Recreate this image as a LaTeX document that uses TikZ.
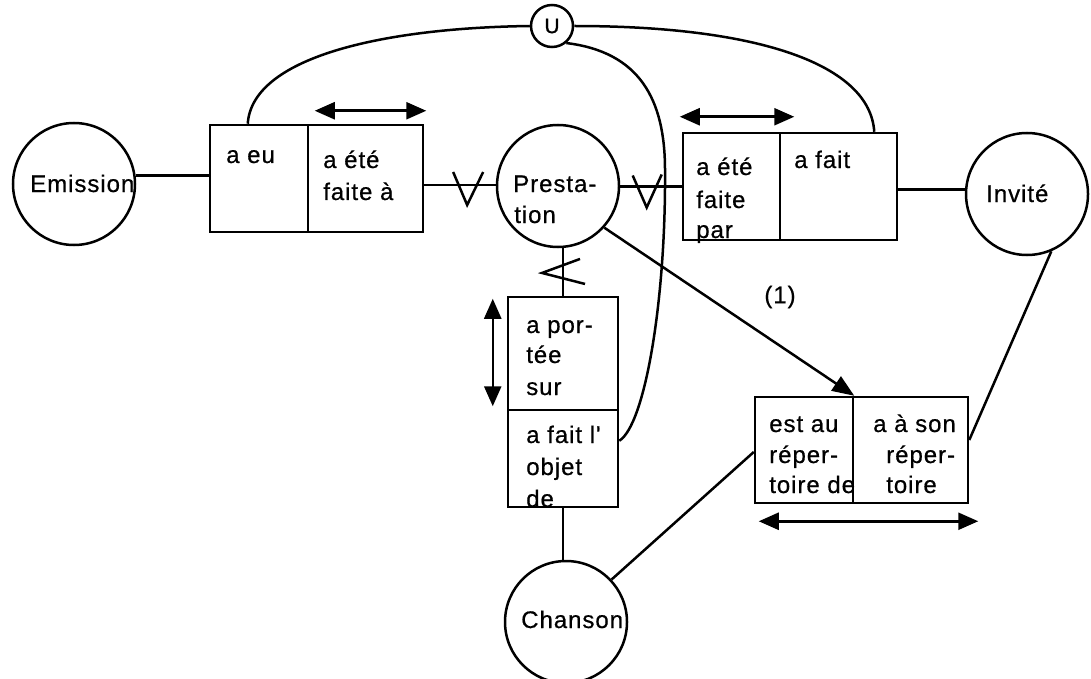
\documentclass[tikz,border=0pt]{standalone}
\usepackage{fontspec}
\newfontfamily\df{Liberation Sans}[LetterSpace=4,FakeBold=0.6]
\usetikzlibrary{shapes.geometric,arrows.meta,calc}
\begin{document}
\begin{tikzpicture}[x=1pt,y=-1pt, line width=2.5pt,
  every node/.style={font=\df\fontsize{24}{30}\selectfont},
  ent/.style={draw, circle, inner sep=0, minimum size=122},
  cell/.style={draw, rectangle, inner sep=0},
  lbl/.style={anchor=base west, inner sep=0},
  dbl/.style={{Triangle[length=20pt,width=17pt]}-{Triangle[length=20pt,width=17pt]}},
  arr/.style={-{Triangle[length=22pt,width=17pt]}}]
\fill[white] (0,0) rectangle (1091,679);
\useasboundingbox (0,0) rectangle (1091,679);

% entities
\node[ent] (emission) at (74,184) {};
\node[lbl] (emissiontxt) at (29,192) {Emission};
\node[ent] (pres) at (558,186) {};
\node[lbl] (prestxt1) at (512,192) {Presta-};
\node[lbl] (prestxt2) at (513,223) {tion};
\node[ent] (invite) at (1027,194) {};
\node[lbl] (invitetxt) at (985,202) {Invité};
\node[ent] (chanson) at (566,622) {};
\node[lbl] (chansontxt) at (520,628) {Chanson};
\node[draw, circle, inner sep=0, minimum size=42, font=\df\fontsize{21}{24}\selectfont] (u) at (552,26) {U};

% box 1
\node[cell, minimum width=98, minimum height=107] (a) at (259,178.5) {};
\node[cell, minimum width=115, minimum height=107] (b) at (365.5,178.5) {};
\node[lbl] (ta) at (225,163) {a eu};
\node[lbl] (tb1) at (322,168) {a été};
\node[lbl] (tb2) at (322,200) {faite à};

% box 2
\node[cell, minimum width=97, minimum height=107] (c) at (731.5,186.5) {};
\node[cell, minimum width=117, minimum height=107] (d) at (838.5,186.5) {};
\node[lbl] (tc1) at (695,175) {a été};
\node[lbl] (tc2) at (695,208) {faite};
\node[lbl] (tc3) at (695,238) {par};
\node[lbl] (td) at (793,168) {a fait};

% box 3
\node[cell, minimum width=110, minimum height=113] (e) at (563,353.5) {};
\node[cell, minimum width=110, minimum height=97] (f) at (563,458.5) {};
\node[lbl] (te1) at (525,333) {a por-};
\node[lbl] (te2) at (525,363) {tée};
\node[lbl] (te3) at (525,395) {sur};
\node[lbl] (tf1) at (525,443) {a fait l'};
\node[lbl] (tf2) at (525,475) {objet};
\node[lbl] (tf3) at (525,507) {de};

% box 4
\node[cell, minimum width=98, minimum height=106] (g) at (804,450) {};
\node[cell, minimum width=115, minimum height=106] (h) at (910.5,450) {};
\node[lbl] (tg1) at (768,432) {est au};
\node[lbl] (tg2) at (768,463) {réper-};
\node[lbl] (tg3) at (768,493) {toire de};
\node[lbl] (th1) at (872,432) {a à son};
\node[lbl] (th2) at (885,463) {réper-};
\node[lbl] (th3) at (885,493) {toire};

\node (one) at (780,297) {(1)};

% connectors
\coordinate (a0) at ($(a.west)+(0,-3)$);
\draw (a0) -- (a0 -| emission.east);
\coordinate (b0) at ($(b.east)+(0,6.5)$);
\draw (b0) -- (b0 -| pres.west);
\coordinate (v1) at ($(b0)!0.6!(b0 -| pres.west)$);
\draw (v1)+(-14,-13) -- +(0,20) -- +(16,-13);
\draw (c.west) -- (c.west -| pres.east);
\coordinate (v2) at ($(c.west -| pres.east)!0.43!(c.west)$);
\draw (v2)+(-14,-11) -- +(0,21) -- +(15,-12);
\coordinate (d0) at ($(d.east)+(0,3)$);
\draw (d0) -- (d0 -| invite.west);
\draw (e.north) -- (e.north |- pres.south);
\coordinate (v3) at ($(e.north)!0.48!(e.north |- pres.south)$);
\draw (v3)+(17,-14) -- +(-21,0) -- +(22,11);
\draw (f.south) -- (f.south |- chanson.north);
\draw (chanson.43) -- ($(g.west)+(0,2)$);
\draw (invite.-67) -- ($(h.east)+(0,-10)$);
\draw[arr] (pres.-42) -- (g.north east);

% curves via U
\coordinate (a1) at ($(a.north west)+(39,0)$);
\draw (a1) .. controls (252,58) and (380,28) .. (u.west);
\coordinate (d1) at ($(d.north east)+(-24,0)$);
\draw (u.east) .. controls (760,26) and (870,65) .. (d1);
\coordinate (f1) at ($(f.north east)+(0,32)$);
\draw (u.-50) .. controls (640,52) and (665,100) .. (665,170)
      .. controls (666,300) and (645,425) .. (f1);

% double arrows
\draw[dbl] ($(b.north west)+(8,-13)$) -- ($(b.north east)+(2,-13)$);
\draw[dbl] ($(c.north west)+(-2,-15)$) -- ($(c.north east)+(13,-15)$);
\draw[dbl] ($(e.north west)+(-14,3)$) -- ($(e.south west)+(-14,-5)$);
\draw[dbl] ($(g.south west)+(5,17)$) -- ($(h.south east)+(9,17)$);
\end{tikzpicture}
\end{document}
